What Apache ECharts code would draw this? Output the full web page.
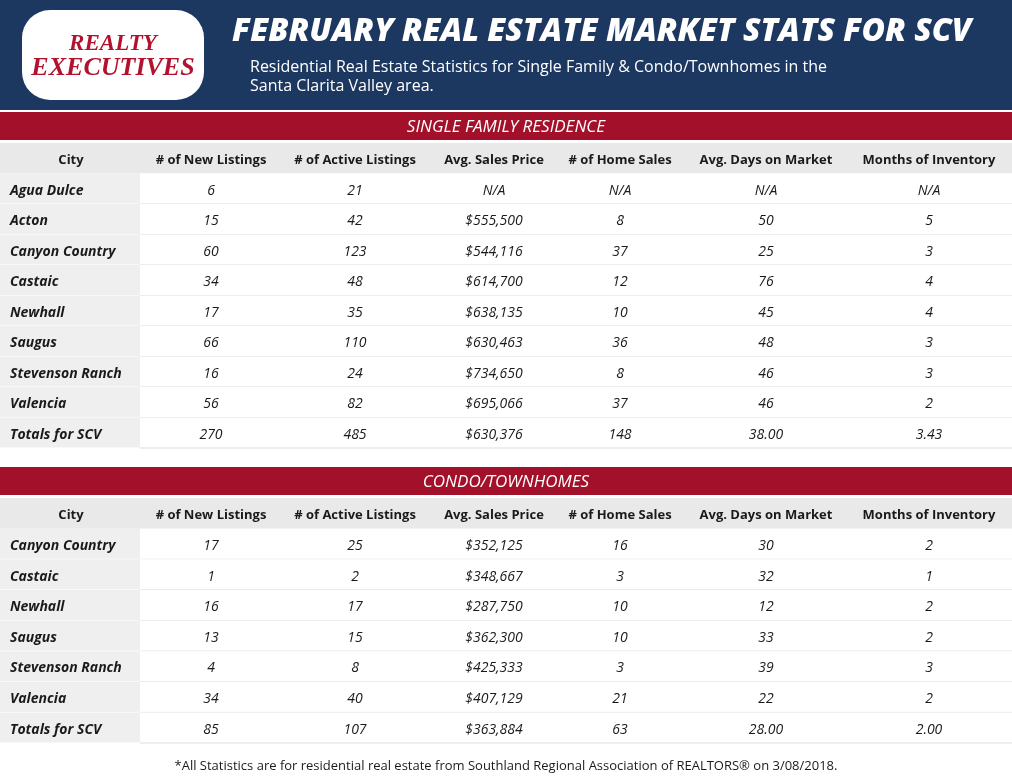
<!DOCTYPE html>
<html>
<head>
<meta charset="utf-8">
<title>SCV Market Stats</title>
<script src="https://cdn.jsdelivr.net/npm/echarts@6/dist/echarts.min.js"></script>
<style>body{margin:0}#main{width:1012px;height:776px}</style>
</head>
<body>
<div id="main"></div>
<script>
var headers = ['City', '# of New Listings', '# of Active Listings', 'Avg. Sales Price', '# of Home Sales', 'Avg. Days on Market', 'Months of Inventory'];

var sfCities = ['Agua Dulce', 'Acton', 'Canyon Country', 'Castaic', 'Newhall', 'Saugus', 'Stevenson Ranch', 'Valencia', 'Totals for SCV'];
var sfNew = ['6', '15', '60', '34', '17', '66', '16', '56', '270'];
var sfActive = ['21', '42', '123', '48', '35', '110', '24', '82', '485'];
var sfPrice = ['N/A', '$555,500', '$544,116', '$614,700', '$638,135', '$630,463', '$734,650', '$695,066', '$630,376'];
var sfSales = ['N/A', '8', '37', '12', '10', '36', '8', '37', '148'];
var sfDays = ['N/A', '50', '25', '76', '45', '48', '46', '46', '38.00'];
var sfMonths = ['N/A', '5', '3', '4', '4', '3', '3', '2', '3.43'];

var cdCities = ['Canyon Country', 'Castaic', 'Newhall', 'Saugus', 'Stevenson Ranch', 'Valencia', 'Totals for SCV'];
var cdNew = ['17', '1', '16', '13', '4', '34', '85'];
var cdActive = ['25', '2', '17', '15', '8', '40', '107'];
var cdPrice = ['$352,125', '$348,667', '$287,750', '$362,300', '$425,333', '$407,129', '$363,884'];
var cdSales = ['16', '3', '10', '10', '3', '21', '63'];
var cdDays = ['30', '32', '12', '33', '39', '22', '28.00'];
var cdMonths = ['2', '1', '2', '2', '3', '2', '2.00'];

// layout
var colCenter = [71, 211, 355, 494, 620, 766, 929];
var colEdge = [0, 140, 282, 428, 560, 680, 852, 1012];
var FONT = '"Open Sans", sans-serif';

function buildCells(cols) {
  var cells = [];
  headers.forEach(function (h, c) { cells.push({ c: c, r: 0, t: h }); });
  cols.forEach(function (arr, c) {
    arr.forEach(function (v, r) { cells.push({ c: c, r: r + 1, t: v }); });
  });
  return cells;
}
var sfCells = buildCells([sfCities, sfNew, sfActive, sfPrice, sfSales, sfDays, sfMonths]);
var cdCells = buildCells([cdCities, cdNew, cdActive, cdPrice, cdSales, cdDays, cdMonths]);

function rowCats(n) { var a = []; for (var i = 0; i <= n; i++) a.push(i); return a; }

function tableSeries(cells, idx) {
  return {
    type: 'custom', xAxisIndex: idx, yAxisIndex: idx,
    data: cells.map(function (d) { return [colCenter[d.c], d.r]; }),
    renderItem: function (params, api) {
      var d = cells[params.dataIndex];
      var p = api.coord([colCenter[d.c], d.r]);
      var h = api.size([0, 1])[1];
      var x0 = api.coord([colEdge[d.c], d.r])[0];
      var x1 = api.coord([colEdge[d.c + 1], d.r])[0];
      var head = d.r === 0, city = d.c === 0;
      var bg = head ? '#e9e9e9' : (city ? '#efefef' : '#ffffff');
      var children = [{
        type: 'rect', shape: { x: x0, y: p[1] - h / 2, width: x1 - x0, height: h },
        style: { fill: bg, stroke: null }
      }];
      if (!head) children.push({
        type: 'line', shape: { x1: x0, y1: p[1] + h / 2, x2: x1, y2: p[1] + h / 2 },
        style: { stroke: city ? '#ffffff' : '#dddddd', lineWidth: 1 }
      });
      children.push({
        type: 'text',
        style: {
          x: (city && !head) ? 10 : p[0], y: p[1] + 2, text: d.t,
          textAlign: (city && !head) ? 'left' : 'center', textVerticalAlign: 'middle',
          fill: '#1a1a1a', fontFamily: FONT,
          fontSize: head ? 13 : 14,
          fontWeight: (head || city) ? 'bold' : 'normal',
          fontStyle: head ? 'normal' : 'italic'
        }
      });
      return { type: 'group', children: children };
    }
  };
}

var chart = echarts.init(document.getElementById('main'));
var option = {
  backgroundColor: '#ffffff',
  animation: false,
  grid: [
    { left: 0, right: 0, top: 143, height: 305 },
    { left: 0, right: 0, top: 498, height: 245 }
  ],
  xAxis: [0, 1].map(function (i) {
    return { type: 'value', gridIndex: i, min: 0, max: 1012, show: false };
  }),
  yAxis: [
    { type: 'category', gridIndex: 0, inverse: true, data: rowCats(sfCities.length), show: false },
    { type: 'category', gridIndex: 1, inverse: true, data: rowCats(cdCities.length), show: false }
  ],
  graphic: [
    { type: 'rect', shape: { x: 0, y: 0, width: 1012, height: 110 }, style: { fill: '#1c3861' } },
    { type: 'rect', shape: { x: 22, y: 10, width: 182, height: 90, r: 28 }, style: { fill: '#ffffff' } },
    { type: 'text', style: { x: 113, y: 44, text: 'REALTY', textAlign: 'center', textVerticalAlign: 'middle', fill: '#b3122e', font: 'italic bold 23px "Liberation Serif", serif' } },
    { type: 'text', style: { x: 113, y: 68, text: 'EXECUTIVES', textAlign: 'center', textVerticalAlign: 'middle', fill: '#b3122e', font: 'italic bold 26px "Liberation Serif", serif' } },
    { type: 'text', style: { x: 232, y: 32, text: 'FEBRUARY REAL ESTATE MARKET STATS FOR SCV', textVerticalAlign: 'middle', fill: '#ffffff', font: 'italic 800 32px "Open Sans", sans-serif' } },
    { type: 'text', style: { x: 250, y: 67, text: 'Residential Real Estate Statistics for Single Family & Condo/Townhomes in the', textVerticalAlign: 'middle', fill: '#ffffff', font: '16px "Open Sans", sans-serif' } },
    { type: 'text', style: { x: 250, y: 86, text: 'Santa Clarita Valley area.', textVerticalAlign: 'middle', fill: '#ffffff', font: '16px "Open Sans", sans-serif' } },
    { type: 'rect', shape: { x: 0, y: 112, width: 1012, height: 28 }, style: { fill: '#a3102a' } },
    { type: 'text', style: { x: 506, y: 127, text: 'SINGLE FAMILY RESIDENCE', textAlign: 'center', textVerticalAlign: 'middle', fill: '#ffffff', font: 'italic 17px "Open Sans", sans-serif' } },
    { type: 'rect', shape: { x: 0, y: 467, width: 1012, height: 28 }, style: { fill: '#a3102a' } },
    { type: 'text', style: { x: 506, y: 482, text: 'CONDO/TOWNHOMES', textAlign: 'center', textVerticalAlign: 'middle', fill: '#ffffff', font: 'italic 17px "Open Sans", sans-serif' } },
    { type: 'text', style: { x: 506, y: 766, text: '*All Statistics are for residential real estate from Southland Regional Association of REALTORS® on 3/08/2018.', textAlign: 'center', textVerticalAlign: 'middle', fill: '#1a1a1a', font: '13px "Open Sans", sans-serif' } }
  ],
  series: [tableSeries(sfCells, 0), tableSeries(cdCells, 1)]
};
chart.setOption(option);
</script>
</body>
</html>
